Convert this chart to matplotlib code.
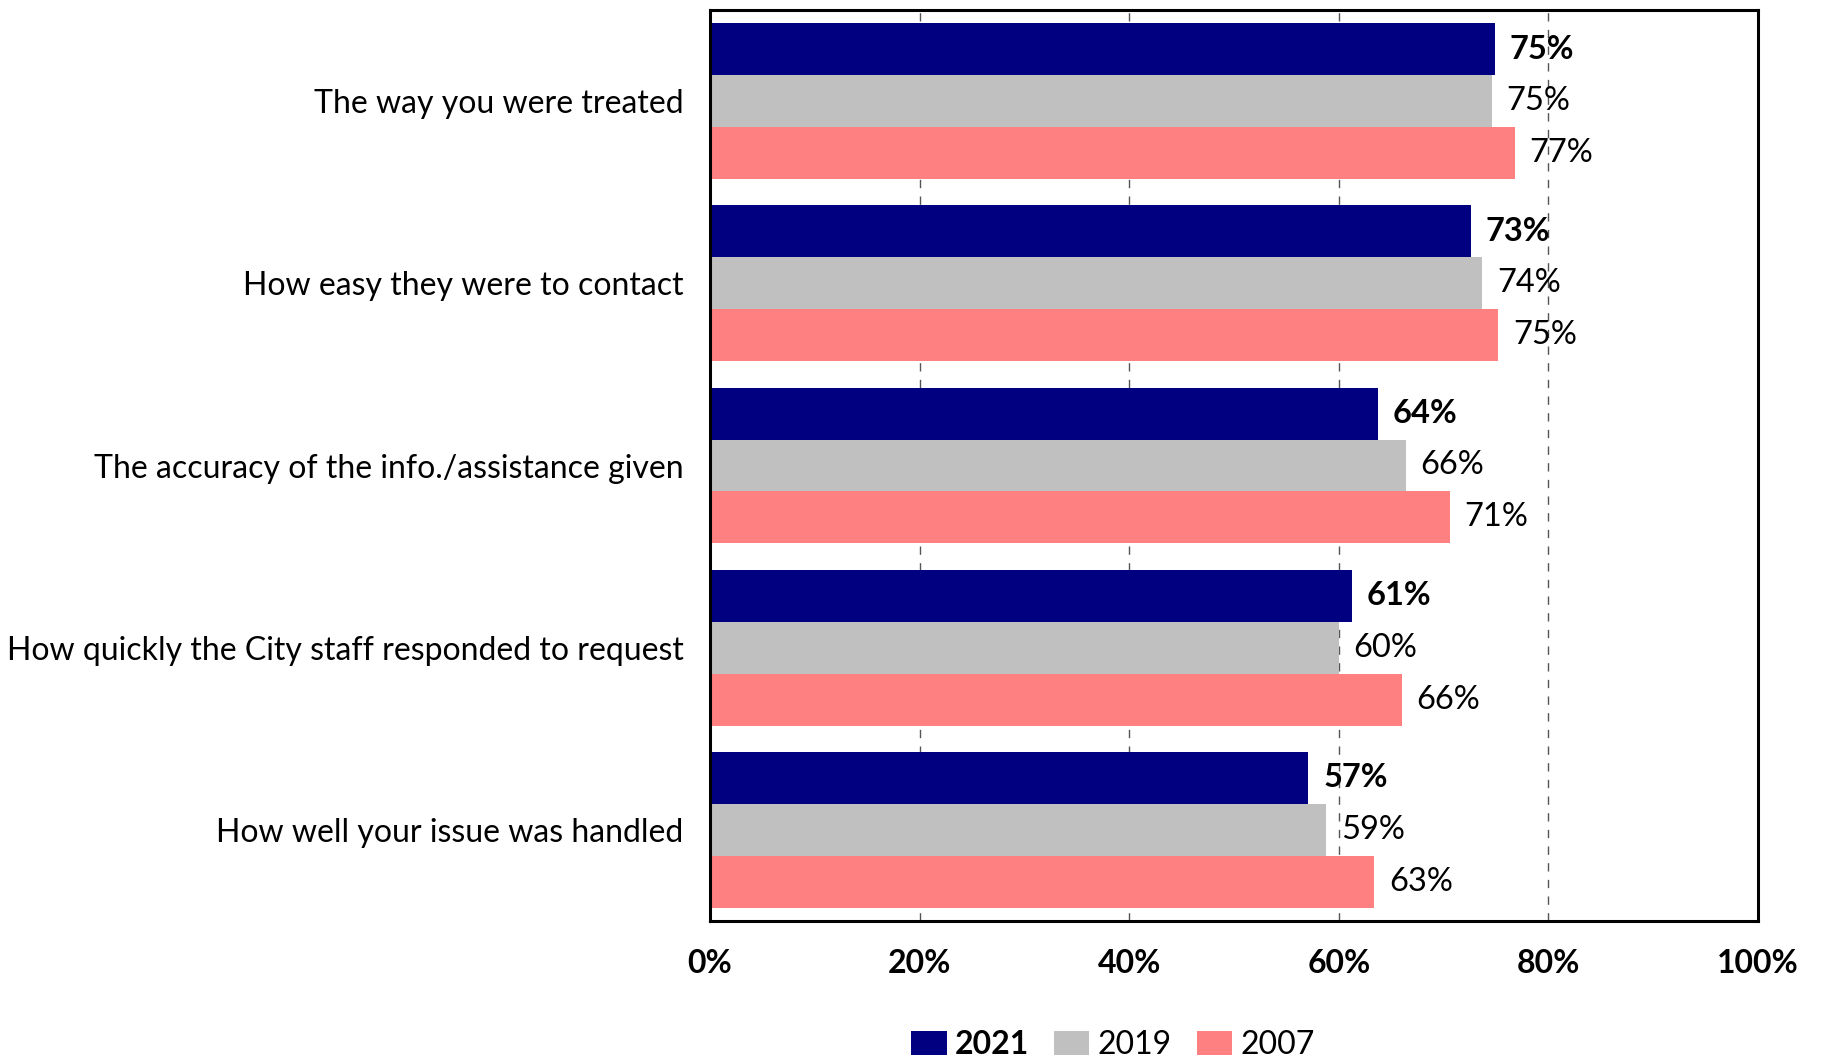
import numpy as np
import matplotlib.pyplot as plt
from matplotlib.patches import Patch

plt.rcParams["font.family"] = ["Lato", "DejaVu Sans"]

# Survey results (% satisfied)

categories = [
    "The way you were treated",
    "How easy they were to contact",
    "The accuracy of the info./assistance given",
    "How quickly the City staff responded to request",
    "How well your issue was handled",
]

years = ["2021", "2019", "2007"]

values_2021 = [74.9, 72.6, 63.7, 61.3, 57.1]
values_2019 = [74.6, 73.7, 66.4, 60.0, 58.8]
values_2007 = [76.8, 75.2, 70.6, 66.0, 63.4]

series = [values_2021, values_2019, values_2007]
colors = ["#000080", "#C0C0C0", "#FF8080"]

x_ticks = [0, 20, 40, 60, 80, 100]


fig = plt.figure(figsize=(18.22, 10.59), dpi=100)
ax = fig.add_axes([710 / 1822, 1 - 921 / 1059, 1048 / 1822, 911 / 1059])

positions = np.arange(len(categories))
bar_height = 0.285

for i, (vals, color) in enumerate(zip(series, colors)):
    offsets = positions + (i - 1) * bar_height
    ax.barh(offsets, vals, height=bar_height, color=color, zorder=2)

    for y, v in zip(offsets, vals):
        ax.text(
            v + 1.4,
            y,
            f"{v:.0f}%",
            va="center",
            ha="left",
            fontsize=23.5,
            fontweight="bold" if i == 0 else "normal",
            zorder=3,
        )

ax.set_ylim(len(categories) - 0.5, -0.5)
ax.set_xlim(0, 100)

ax.set_yticks(positions)
ax.set_yticklabels(categories, fontsize=23)
ax.tick_params(axis="y", length=0, pad=19)

ax.set_xticks(x_ticks)
ax.set_xticklabels([f"{t}%" for t in x_ticks], fontsize=23, fontweight="bold")
ax.tick_params(axis="x", length=0, pad=20)

ax.grid(axis="x", linestyle=(0, (6, 6)), color="#555555", linewidth=1.0, zorder=1)

for spine in ax.spines.values():
    spine.set_linewidth(2.2)
    spine.set_zorder(4)

handles = [Patch(facecolor=c) for c in colors]
leg = fig.legend(
    handles,
    years,
    loc="center",
    bbox_to_anchor=(1113 / 1822, 1 - 1045 / 1059),
    ncol=3,
    frameon=False,
    fontsize=23,
    handlelength=1.1,
    handleheight=0.8,
    handletextpad=0.25,
    columnspacing=0.8,
)
leg.get_texts()[0].set_fontweight("bold")

fig.savefig("out.png", dpi=100)
